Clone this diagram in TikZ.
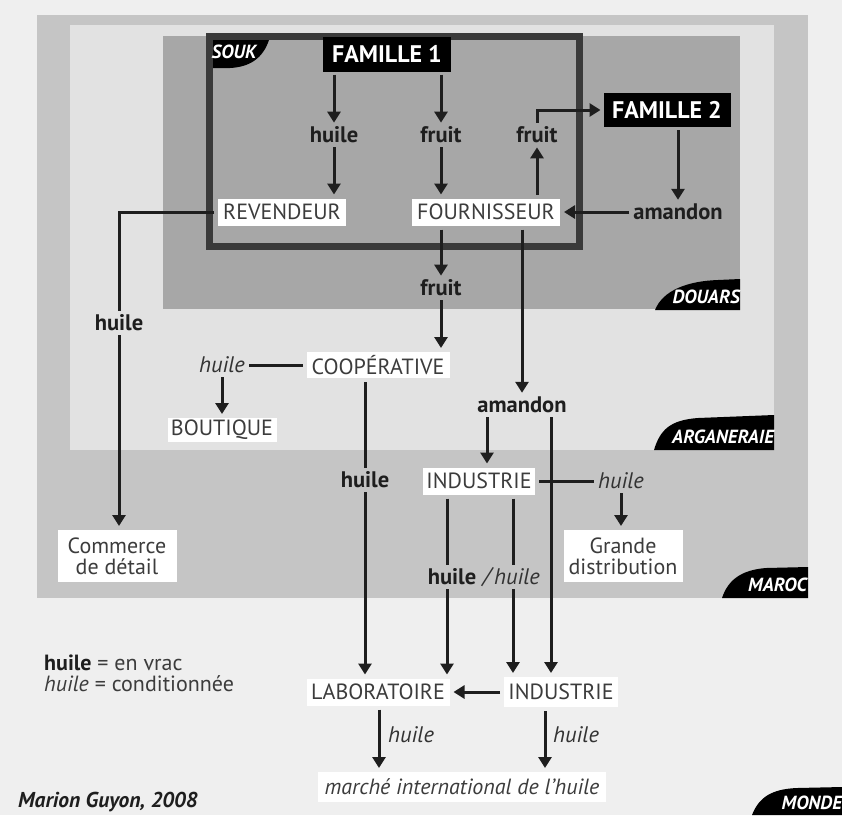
\documentclass[tikz,border=0pt]{standalone}
\usepackage{fontspec}
\setmainfont{PT Sans}
\usetikzlibrary{arrows.meta}
\definecolor{bg}{HTML}{EFEFEF}
\definecolor{maroc}{HTML}{C5C5C5}
\definecolor{argan}{HTML}{E2E2E2}
\definecolor{douars}{HTML}{A7A7A7}
\definecolor{souk}{HTML}{3A3A3A}
\definecolor{ink}{HTML}{1E1E1E}
\definecolor{boxink}{HTML}{3C3C3C}
\definecolor{itink}{HTML}{333333}
\begin{document}
\begin{tikzpicture}[x=1pt,y=-1pt,
  every node/.style={font=\fontsize{22}{22}\selectfont, inner sep=0pt},
  wbox/.style={fill=white, text=boxink, minimum height=27pt, align=center, outer sep=4pt},
  bbox/.style={fill=black, text=white, font=\fontsize{24}{24}\selectfont\bfseries, minimum height=34pt, outer sep=3pt},
  blbl/.style={text=ink, font=\fontsize{22.5}{23}\selectfont\bfseries, inner ysep=4pt, inner xsep=4pt},
  ilbl/.style={text=itink, font=\fontsize{22.5}{23}\selectfont\itshape, inner ysep=4pt, inner xsep=4pt},
  arr/.style={draw=ink, line width=3pt, -{Triangle[width=13pt,length=11pt]}},
  ln/.style={draw=ink, line width=3pt},
  tabshape/.style={fill=black},
  tabtxt/.style={text=white, font=\fontsize{19}{19}\selectfont\bfseries\itshape},
]
% backgrounds
\fill[bg] (0,0) rectangle (842,815);
\path[use as bounding box] (0,0) rectangle (842,815);
\fill[maroc] (37,15) rectangle (808,598);
\fill[argan] (70,25) rectangle (774,450);
\fill[douars] (163,36) rectangle (740,309);
\draw[souk, line width=7pt] (209.5,36.5) rectangle (579.5,246.5);

% zone tabs
\fill[tabshape] (213,40) -- (269,40) .. controls (263,58) and (250,67) .. (230,68) -- (213,68) -- cycle;
\node[tabtxt] (tsouk) at (234,52) {SOUK};
\fill[tabshape] (655,310) .. controls (663,290) and (688,281) .. (718,280) -- (740,279) -- (740,310) -- cycle;
\node[tabtxt, anchor=east] (tdouars) at (740,297) {DOUARS};
\fill[tabshape] (654,450) .. controls (660,430) and (670,420) .. (698,418) -- (774,415) -- (774,450) -- cycle;
\node[tabtxt, anchor=east] (targan) at (774,437) {ARGANERAIE};
\fill[tabshape] (722,598) .. controls (728,580) and (741,570) .. (766,568) -- (808,567) -- (808,598) -- cycle;
\node[tabtxt, anchor=east] (tmaroc) at (807,585) {MAROC};
\fill[tabshape] (752,815) .. controls (759,797) and (772,789) .. (797,788) -- (842,787) -- (842,815) -- cycle;
\node[tabtxt, anchor=east] (tmonde) at (842,803) {MONDE};

% nodes
\node[bbox, minimum width=128pt, minimum height=35pt] (fam1) at (387,54) {FAMILLE 1};
\node[bbox, minimum width=127pt] (fam2) at (667,110) {FAMILLE 2};
\node[blbl] (huile1) at (334,135) {huile};
\node[blbl] (fruit1) at (441,135) {fruit};
\node[blbl] (fruit2) at (537,135) {fruit};
\node[wbox, minimum width=128pt] (rev) at (282,212) {REVENDEUR};
\node[wbox, minimum width=148pt] (four) at (486,212) {FOURNISSEUR};
\node[blbl] (amandon1) at (678,212) {amandon};
\node[blbl] (fruit3) at (441,288) {fruit};
\node[blbl] (huile4) at (119,323) {huile};
\node[wbox, minimum width=143pt, minimum height=26pt] (coop) at (378,365) {COOPÉRATIVE};
\node[ilbl] (huile5) at (222,365) {huile};
\node[wbox, minimum width=109pt, minimum height=24pt] (bout) at (222,430) {BOUTIQUE};
\node[blbl] (amandon2) at (522,405) {amandon};
\node[wbox, minimum width=112pt] (ind1) at (479,481) {INDUSTRIE};
\node[ilbl] (huile7) at (621,481) {huile};
\node[blbl] (huile6) at (365,480) {huile};
\node[wbox, minimum width=119pt, minimum height=52pt, font=\fontsize{22}{21}\selectfont] (comm) at (117,556) {Commerce\\de détail};
\node[wbox, minimum width=119pt, minimum height=52pt, font=\fontsize{22}{21}\selectfont] (grande) at (623,556) {Grande\\distribution};
\node[blbl] (hb) at (452,577) {huile};
\node[ilbl, inner xsep=0pt] (slash) at (487,577) {/};
\node[ilbl] (hi) at (517,577) {huile};
\node[wbox, minimum width=143pt] (labo) at (378,692) {LABORATOIRE};
\node[wbox, minimum width=114pt, minimum height=30pt] (ind2) at (561,692) {INDUSTRIE};
\node[ilbl, anchor=west] (hl1) at (384,735) {huile};
\node[ilbl, anchor=west] (hl2) at (549,735) {huile};
\node[wbox, minimum width=288pt, minimum height=30pt, font=\fontsize{22}{22}\selectfont\itshape] (marche) at (462,787) {marché international de l'huile};
\node[anchor=west, text=boxink, font=\fontsize{22}{22}\selectfont] (leg1) at (44,663) {\textbf{\color{ink}huile} = en vrac};
\node[anchor=west, text=boxink, font=\fontsize{22}{22}\selectfont] (leg2) at (44,684) {\textit{huile} = conditionnée};
\node[anchor=west, text=ink, font=\fontsize{21.5}{22}\selectfont\bfseries\itshape] (credit) at (18,802) {Marion Guyon, 2008};

% column coordinates
\coordinate (xa) at (447,0);
\coordinate (xb) at (513,0);
\coordinate (xc) at (487,0);
\coordinate (xd) at (551,0);
\coordinate (xr) at (545,0);
\coordinate (xl) at (379,0);

% connectors
\draw[arr] (fam1.south -| huile1) -- (huile1.north);
\draw[arr] (huile1.south) -- (huile1.south |- rev.north);
\draw[arr] (fam1.south -| fruit1) -- (fruit1.north);
\draw[arr] (fruit1.south) -- (fruit1.south |- four.north);
\draw[arr] (four.north -| fruit2) -- (fruit2.south);
\draw[arr] (fruit2.north) |- (fam2.west);
\draw[arr] (fam2.south -| amandon1) -- (amandon1.north);
\draw[arr] (amandon1.west) -- (four.east);
\draw[arr] (four.south -| fruit3) -- (fruit3.north);
\draw[arr] (fruit3.south) -- (fruit3.south |- coop.north);
\draw[arr] (four.south -| amandon2) -- (amandon2.north);
\draw[ln] (rev.west) -| (huile4.north);
\draw[arr] (huile4.south) -- (huile4.south |- comm.north);
\draw[ln] (coop.west) -- (huile5.east);
\draw[arr] (huile5.south) -- (huile5.south |- bout.north);
\draw[ln] (coop.south -| huile6) -- (huile6.north);
\draw[arr] (huile6.south) -- (huile6.south |- labo.north);
\draw[arr] (amandon2.south -| xc) -- (ind1.north -| xc);
\draw[ln] (ind1.east) -- (huile7.west);
\draw[arr] (amandon2.south -| xd) -- (ind2.north -| xd);
\draw[arr] (huile7.south) -- (huile7.south |- grande.north);
\draw[ln] (ind1.south -| xa) -- (hb.north -| xa);
\draw[arr] (hb.south -| xa) -- (labo.north -| xa);
\draw[ln] (ind1.south -| xb) -- (hi.north -| xb);
\draw[arr] (hi.south -| xb) -- (ind2.north -| xb);
\draw[arr] (ind2.west) -- (labo.east);
\draw[arr] (labo.south -| xl) -- (marche.north -| xl);
\draw[arr] (ind2.south -| xr) -- (marche.north -| xr);
\end{tikzpicture}
\end{document}
